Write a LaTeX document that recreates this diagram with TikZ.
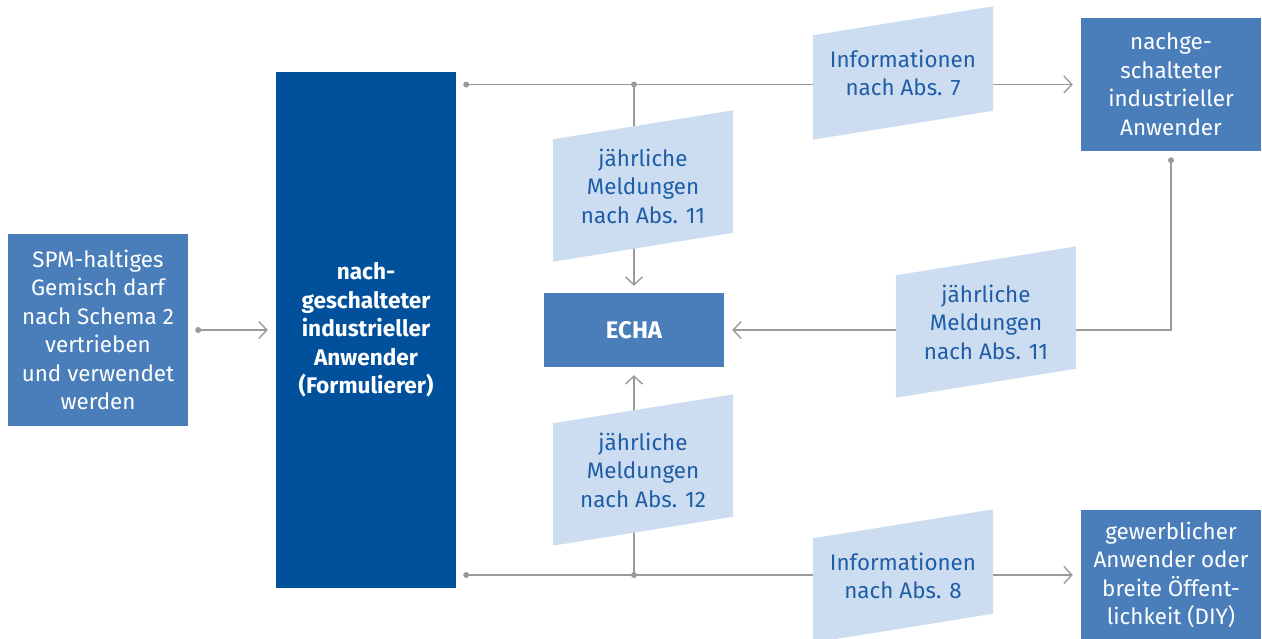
\documentclass[tikz,border=0pt]{standalone}
\usepackage{fontspec}
\setmainfont{Fira Sans}
\usetikzlibrary{arrows.meta,calc}
\definecolor{darkblue}{HTML}{00509B}
\definecolor{midblue}{HTML}{4A7EBB}
\definecolor{lightblue}{HTML}{CCDDF1}
\definecolor{ltext}{HTML}{1F5DA6}
\definecolor{lgray}{HTML}{9A9A9A}
\pgfdeclarelayer{bg}
\pgfdeclarelayer{midl}
\pgfsetlayers{bg,midl,main}
\newcommand\mkpara[1]{%
  \begin{pgfonlayer}{midl}
  \fill[lightblue] ([yshift=-14.5pt]#1.north west) -- ([yshift=14.5pt]#1.north east)
    -- ([yshift=14.5pt]#1.south east) -- ([yshift=-14.5pt]#1.south west) -- cycle;
  \end{pgfonlayer}}
\begin{document}
\begin{tikzpicture}[x=1pt,y=-1pt,
  txt/.style={font=\fontsize{22.4}{28.5}\selectfont,align=center,inner sep=0pt},
  box/.style={txt,fill=midblue,text=white,minimum width=180pt},
  mainbox/.style={txt,fill=darkblue,text=white,minimum width=180pt,
     font=\fontsize{22.6}{28.5}\selectfont\bfseries},
  para/.style={txt,text=ltext,minimum width=180pt},
  conn/.style={draw=lgray,line width=1.4pt},
  tip/.style={-{Straight Barb[length=8pt,width=17pt,line width=1.4pt]}},
  jdot/.style={fill=lgray}
]
\useasboundingbox (0,0) rectangle (1262,638);

% boxes
\node[box,minimum height=192pt] (spm) at (98,330)
  {SPM-haltiges\\Gemisch darf\\nach Schema 2\\vertrieben\\und verwendet\\werden};
\node[mainbox,minimum height=516pt] (main) at (366,330)
  {nach-\\geschalteter\\industrieller\\Anwender\\(Formulierer)};
\node[box,minimum height=74pt,font=\fontsize{24}{28.5}\selectfont\bfseries] (echa) at (634,330) {ECHA};
\node[box,minimum height=133pt] (r1) at (1171,84.5)
  {nachge-\\schalteter\\industrieller\\Anwender};
\node[box,minimum height=130pt] (r2) at (1171,575)
  {gewerblicher\\Anwender oder\\breite Öffent-\\lichkeit (DIY)};

% slanted label shapes
\node[para,minimum height=104pt] (i7) at (903,73) {Informationen\\nach Abs. 7};
\node[para,minimum height=122pt] (j11) at (643,186) {jährliche\\Meldungen\\nach Abs. 11};
\node[para,minimum height=122pt] (j11b) at (986,322) {jährliche\\Meldungen\\nach Abs. 11};
\node[para,minimum height=122pt] (j12) at (643,470) {jährliche\\Meldungen\\nach Abs. 12};
\node[para,minimum height=104pt] (i8) at (903,576) {Informationen\\nach Abs. 8};
\mkpara{i7}\mkpara{j11}\mkpara{j11b}\mkpara{j12}\mkpara{i8}

% connectors
\begin{pgfonlayer}{bg}
\coordinate (s0) at ($(spm.east)+(10,0)$);
\coordinate (t0) at ($(main.east |- r1.west)+(10,0)$);
\coordinate (j1) at (echa.north |- t0);
\coordinate (b0) at ($(main.east |- r2.west)+(10,0)$);
\coordinate (j2) at (echa.south |- b0);
\coordinate (rd) at ($(r1.south)+(0,9)$);
\draw[conn,tip,shorten >=8pt] (s0) -- (main.west |- s0);
\draw[conn,tip,shorten >=8pt] (t0) -- (r1.west);
\draw[conn,tip,shorten >=7pt] (j1) -- (echa.north);
\draw[conn,tip,shorten >=8pt] (b0) -- (r2.west);
\draw[conn,tip,shorten >=8pt] (j2) -- (echa.south);
\draw[conn,tip,shorten >=8pt] (rd) |- (echa.east);
\foreach \p in {s0,t0,j1,b0,j2,rd} \fill[jdot] (\p) circle (3pt);
\end{pgfonlayer}
\end{tikzpicture}
\end{document}
